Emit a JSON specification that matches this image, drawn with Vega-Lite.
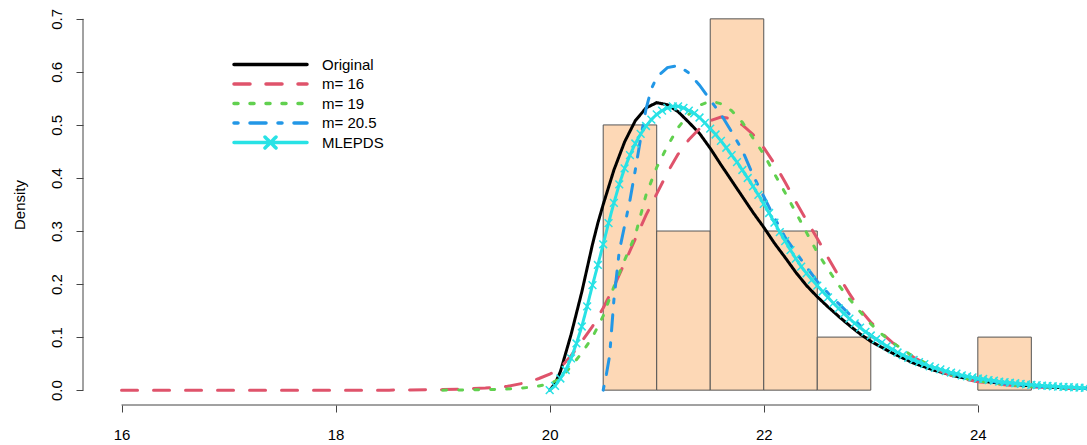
{
  "$schema": "https://vega.github.io/schema/vega-lite/v6.json",
  "width": 1004,
  "height": 401,
  "autosize": {"type": "none"},
  "padding": {"left": 83, "top": 4, "right": 0, "bottom": 40},
  "config": {
    "view": {"stroke": null},
    "font": "Liberation Sans",
    "axis": {"grid": false, "domain": false, "tickColor": "#444444", "tickSize": 7, "labelFontSize": 15, "labelColor": "#000000", "labelFont": "Liberation Sans", "titleFont": "Liberation Sans", "titleFontWeight": "normal", "titleFontSize": 15, "titleColor": "#000000"}
  },
  "datasets": {
    "hist": [
      {"start": 20.5, "end": 21.0, "density": 0.5},
      {"start": 21.0, "end": 21.5, "density": 0.3},
      {"start": 21.5, "end": 22.0, "density": 0.7},
      {"start": 22.0, "end": 22.5, "density": 0.3},
      {"start": 22.5, "end": 23.0, "density": 0.1},
      {"start": 24.0, "end": 24.5, "density": 0.1}
    ],
    "curves": [
      {"series": "Original", "x": 20.0, "y": 0},
      {"series": "Original", "x": 20.05, "y": 0.012},
      {"series": "Original", "x": 20.1, "y": 0.035},
      {"series": "Original", "x": 20.15, "y": 0.07},
      {"series": "Original", "x": 20.2, "y": 0.105},
      {"series": "Original", "x": 20.25, "y": 0.145},
      {"series": "Original", "x": 20.3, "y": 0.185},
      {"series": "Original", "x": 20.35, "y": 0.23},
      {"series": "Original", "x": 20.4, "y": 0.275},
      {"series": "Original", "x": 20.45, "y": 0.315},
      {"series": "Original", "x": 20.5, "y": 0.35},
      {"series": "Original", "x": 20.6, "y": 0.415},
      {"series": "Original", "x": 20.7, "y": 0.468},
      {"series": "Original", "x": 20.8, "y": 0.508},
      {"series": "Original", "x": 20.9, "y": 0.532},
      {"series": "Original", "x": 21.0, "y": 0.542},
      {"series": "Original", "x": 21.1, "y": 0.538},
      {"series": "Original", "x": 21.2, "y": 0.525},
      {"series": "Original", "x": 21.3, "y": 0.505},
      {"series": "Original", "x": 21.4, "y": 0.484},
      {"series": "Original", "x": 21.5, "y": 0.456},
      {"series": "Original", "x": 21.6, "y": 0.425},
      {"series": "Original", "x": 21.7, "y": 0.395},
      {"series": "Original", "x": 21.8, "y": 0.365},
      {"series": "Original", "x": 21.9, "y": 0.335},
      {"series": "Original", "x": 22.0, "y": 0.307},
      {"series": "Original", "x": 22.1, "y": 0.277},
      {"series": "Original", "x": 22.2, "y": 0.25},
      {"series": "Original", "x": 22.3, "y": 0.222},
      {"series": "Original", "x": 22.4, "y": 0.197},
      {"series": "Original", "x": 22.5, "y": 0.176},
      {"series": "Original", "x": 22.6, "y": 0.157},
      {"series": "Original", "x": 22.7, "y": 0.139},
      {"series": "Original", "x": 22.8, "y": 0.122},
      {"series": "Original", "x": 22.9, "y": 0.106},
      {"series": "Original", "x": 23.0, "y": 0.092},
      {"series": "Original", "x": 23.2, "y": 0.07},
      {"series": "Original", "x": 23.4, "y": 0.051},
      {"series": "Original", "x": 23.6, "y": 0.037},
      {"series": "Original", "x": 23.8, "y": 0.026},
      {"series": "Original", "x": 24.0, "y": 0.018},
      {"series": "Original", "x": 24.25, "y": 0.012},
      {"series": "Original", "x": 24.5, "y": 0.008},
      {"series": "Original", "x": 24.75, "y": 0.005},
      {"series": "Original", "x": 25.0, "y": 0.003},
      {"series": "Original", "x": 25.1, "y": 0.002},

      {"series": "m= 16", "x": 16.0, "y": 0},
      {"series": "m= 16", "x": 18.5, "y": 0},
      {"series": "m= 16", "x": 19.0, "y": 0.001},
      {"series": "m= 16", "x": 19.2, "y": 0.002},
      {"series": "m= 16", "x": 19.4, "y": 0.004},
      {"series": "m= 16", "x": 19.6, "y": 0.007},
      {"series": "m= 16", "x": 19.8, "y": 0.015},
      {"series": "m= 16", "x": 19.9, "y": 0.022},
      {"series": "m= 16", "x": 20.0, "y": 0.03},
      {"series": "m= 16", "x": 20.1, "y": 0.042},
      {"series": "m= 16", "x": 20.2, "y": 0.065},
      {"series": "m= 16", "x": 20.3, "y": 0.092},
      {"series": "m= 16", "x": 20.4, "y": 0.12},
      {"series": "m= 16", "x": 20.5, "y": 0.155},
      {"series": "m= 16", "x": 20.6, "y": 0.195},
      {"series": "m= 16", "x": 20.7, "y": 0.24},
      {"series": "m= 16", "x": 20.8, "y": 0.285},
      {"series": "m= 16", "x": 20.9, "y": 0.33},
      {"series": "m= 16", "x": 21.0, "y": 0.37},
      {"series": "m= 16", "x": 21.1, "y": 0.41},
      {"series": "m= 16", "x": 21.2, "y": 0.445},
      {"series": "m= 16", "x": 21.3, "y": 0.472},
      {"series": "m= 16", "x": 21.4, "y": 0.493},
      {"series": "m= 16", "x": 21.5, "y": 0.508},
      {"series": "m= 16", "x": 21.6, "y": 0.515},
      {"series": "m= 16", "x": 21.7, "y": 0.512},
      {"series": "m= 16", "x": 21.8, "y": 0.5},
      {"series": "m= 16", "x": 21.9, "y": 0.482},
      {"series": "m= 16", "x": 22.0, "y": 0.457},
      {"series": "m= 16", "x": 22.1, "y": 0.427},
      {"series": "m= 16", "x": 22.2, "y": 0.392},
      {"series": "m= 16", "x": 22.3, "y": 0.355},
      {"series": "m= 16", "x": 22.4, "y": 0.32},
      {"series": "m= 16", "x": 22.5, "y": 0.286},
      {"series": "m= 16", "x": 22.6, "y": 0.25},
      {"series": "m= 16", "x": 22.7, "y": 0.215},
      {"series": "m= 16", "x": 22.8, "y": 0.182},
      {"series": "m= 16", "x": 22.9, "y": 0.152},
      {"series": "m= 16", "x": 23.0, "y": 0.128},
      {"series": "m= 16", "x": 23.1, "y": 0.108},
      {"series": "m= 16", "x": 23.2, "y": 0.09},
      {"series": "m= 16", "x": 23.4, "y": 0.062},
      {"series": "m= 16", "x": 23.6, "y": 0.04},
      {"series": "m= 16", "x": 23.8, "y": 0.024},
      {"series": "m= 16", "x": 24.0, "y": 0.016},
      {"series": "m= 16", "x": 24.25, "y": 0.01},
      {"series": "m= 16", "x": 24.5, "y": 0.006},
      {"series": "m= 16", "x": 24.75, "y": 0.004},
      {"series": "m= 16", "x": 25.0, "y": 0.003},
      {"series": "m= 16", "x": 25.1, "y": 0.002},

      {"series": "m= 19", "x": 19.0, "y": 0},
      {"series": "m= 19", "x": 19.4, "y": 0.001},
      {"series": "m= 19", "x": 19.6, "y": 0.002},
      {"series": "m= 19", "x": 19.8, "y": 0.005},
      {"series": "m= 19", "x": 19.9, "y": 0.008},
      {"series": "m= 19", "x": 20.0, "y": 0.012},
      {"series": "m= 19", "x": 20.1, "y": 0.022},
      {"series": "m= 19", "x": 20.2, "y": 0.045},
      {"series": "m= 19", "x": 20.3, "y": 0.07},
      {"series": "m= 19", "x": 20.4, "y": 0.1},
      {"series": "m= 19", "x": 20.5, "y": 0.14},
      {"series": "m= 19", "x": 20.6, "y": 0.195},
      {"series": "m= 19", "x": 20.7, "y": 0.245},
      {"series": "m= 19", "x": 20.8, "y": 0.292},
      {"series": "m= 19", "x": 20.9, "y": 0.368},
      {"series": "m= 19", "x": 21.0, "y": 0.42},
      {"series": "m= 19", "x": 21.1, "y": 0.46},
      {"series": "m= 19", "x": 21.2, "y": 0.495},
      {"series": "m= 19", "x": 21.3, "y": 0.52},
      {"series": "m= 19", "x": 21.4, "y": 0.537},
      {"series": "m= 19", "x": 21.5, "y": 0.545},
      {"series": "m= 19", "x": 21.6, "y": 0.54},
      {"series": "m= 19", "x": 21.7, "y": 0.527},
      {"series": "m= 19", "x": 21.8, "y": 0.505},
      {"series": "m= 19", "x": 21.9, "y": 0.475},
      {"series": "m= 19", "x": 22.0, "y": 0.445},
      {"series": "m= 19", "x": 22.1, "y": 0.408},
      {"series": "m= 19", "x": 22.2, "y": 0.372},
      {"series": "m= 19", "x": 22.3, "y": 0.335},
      {"series": "m= 19", "x": 22.4, "y": 0.297},
      {"series": "m= 19", "x": 22.5, "y": 0.26},
      {"series": "m= 19", "x": 22.6, "y": 0.228},
      {"series": "m= 19", "x": 22.7, "y": 0.198},
      {"series": "m= 19", "x": 22.8, "y": 0.172},
      {"series": "m= 19", "x": 22.9, "y": 0.148},
      {"series": "m= 19", "x": 23.0, "y": 0.125},
      {"series": "m= 19", "x": 23.1, "y": 0.106},
      {"series": "m= 19", "x": 23.2, "y": 0.09},
      {"series": "m= 19", "x": 23.4, "y": 0.063},
      {"series": "m= 19", "x": 23.6, "y": 0.042},
      {"series": "m= 19", "x": 23.8, "y": 0.026},
      {"series": "m= 19", "x": 24.0, "y": 0.017},
      {"series": "m= 19", "x": 24.25, "y": 0.011},
      {"series": "m= 19", "x": 24.5, "y": 0.007},
      {"series": "m= 19", "x": 24.75, "y": 0.004},
      {"series": "m= 19", "x": 25.0, "y": 0.003},
      {"series": "m= 19", "x": 25.1, "y": 0.002},

      {"series": "m= 20.5", "x": 20.5, "y": 0},
      {"series": "m= 20.5", "x": 20.53, "y": 0.03},
      {"series": "m= 20.5", "x": 20.56, "y": 0.065},
      {"series": "m= 20.5", "x": 20.6, "y": 0.17},
      {"series": "m= 20.5", "x": 20.65, "y": 0.262},
      {"series": "m= 20.5", "x": 20.7, "y": 0.31},
      {"series": "m= 20.5", "x": 20.75, "y": 0.358},
      {"series": "m= 20.5", "x": 20.8, "y": 0.415},
      {"series": "m= 20.5", "x": 20.85, "y": 0.475},
      {"series": "m= 20.5", "x": 20.9, "y": 0.53},
      {"series": "m= 20.5", "x": 20.95, "y": 0.568},
      {"series": "m= 20.5", "x": 21.0, "y": 0.59},
      {"series": "m= 20.5", "x": 21.1, "y": 0.608},
      {"series": "m= 20.5", "x": 21.2, "y": 0.612},
      {"series": "m= 20.5", "x": 21.3, "y": 0.598},
      {"series": "m= 20.5", "x": 21.4, "y": 0.575},
      {"series": "m= 20.5", "x": 21.5, "y": 0.547},
      {"series": "m= 20.5", "x": 21.6, "y": 0.52},
      {"series": "m= 20.5", "x": 21.7, "y": 0.487},
      {"series": "m= 20.5", "x": 21.8, "y": 0.452},
      {"series": "m= 20.5", "x": 21.9, "y": 0.405},
      {"series": "m= 20.5", "x": 22.0, "y": 0.365},
      {"series": "m= 20.5", "x": 22.1, "y": 0.325},
      {"series": "m= 20.5", "x": 22.2, "y": 0.288},
      {"series": "m= 20.5", "x": 22.3, "y": 0.26},
      {"series": "m= 20.5", "x": 22.4, "y": 0.232},
      {"series": "m= 20.5", "x": 22.5, "y": 0.205},
      {"series": "m= 20.5", "x": 22.6, "y": 0.183},
      {"series": "m= 20.5", "x": 22.7, "y": 0.163},
      {"series": "m= 20.5", "x": 22.8, "y": 0.143},
      {"series": "m= 20.5", "x": 22.9, "y": 0.122},
      {"series": "m= 20.5", "x": 23.0, "y": 0.103},
      {"series": "m= 20.5", "x": 23.2, "y": 0.077},
      {"series": "m= 20.5", "x": 23.4, "y": 0.056},
      {"series": "m= 20.5", "x": 23.6, "y": 0.041},
      {"series": "m= 20.5", "x": 23.8, "y": 0.029},
      {"series": "m= 20.5", "x": 24.0, "y": 0.02},
      {"series": "m= 20.5", "x": 24.25, "y": 0.013},
      {"series": "m= 20.5", "x": 24.5, "y": 0.008},
      {"series": "m= 20.5", "x": 24.75, "y": 0.005},
      {"series": "m= 20.5", "x": 25.0, "y": 0.003},
      {"series": "m= 20.5", "x": 25.1, "y": 0.002},

      {"series": "MLEPDS", "x": 20.0, "y": 0},
      {"series": "MLEPDS", "x": 20.05, "y": 0.008},
      {"series": "MLEPDS", "x": 20.1, "y": 0.022},
      {"series": "MLEPDS", "x": 20.15, "y": 0.038},
      {"series": "MLEPDS", "x": 20.2, "y": 0.06},
      {"series": "MLEPDS", "x": 20.25, "y": 0.088},
      {"series": "MLEPDS", "x": 20.3, "y": 0.12},
      {"series": "MLEPDS", "x": 20.35, "y": 0.158},
      {"series": "MLEPDS", "x": 20.4, "y": 0.198},
      {"series": "MLEPDS", "x": 20.45, "y": 0.236},
      {"series": "MLEPDS", "x": 20.5, "y": 0.275},
      {"series": "MLEPDS", "x": 20.55, "y": 0.315},
      {"series": "MLEPDS", "x": 20.6, "y": 0.353},
      {"series": "MLEPDS", "x": 20.65, "y": 0.388},
      {"series": "MLEPDS", "x": 20.7, "y": 0.418},
      {"series": "MLEPDS", "x": 20.75, "y": 0.443},
      {"series": "MLEPDS", "x": 20.8, "y": 0.465},
      {"series": "MLEPDS", "x": 20.85, "y": 0.483},
      {"series": "MLEPDS", "x": 20.9, "y": 0.498},
      {"series": "MLEPDS", "x": 20.95, "y": 0.51},
      {"series": "MLEPDS", "x": 21.0, "y": 0.52},
      {"series": "MLEPDS", "x": 21.05, "y": 0.527},
      {"series": "MLEPDS", "x": 21.1, "y": 0.532},
      {"series": "MLEPDS", "x": 21.15, "y": 0.535},
      {"series": "MLEPDS", "x": 21.2, "y": 0.535},
      {"series": "MLEPDS", "x": 21.25, "y": 0.532},
      {"series": "MLEPDS", "x": 21.3, "y": 0.527},
      {"series": "MLEPDS", "x": 21.35, "y": 0.522},
      {"series": "MLEPDS", "x": 21.4, "y": 0.514},
      {"series": "MLEPDS", "x": 21.45, "y": 0.504},
      {"series": "MLEPDS", "x": 21.5, "y": 0.493},
      {"series": "MLEPDS", "x": 21.55, "y": 0.482},
      {"series": "MLEPDS", "x": 21.6, "y": 0.47},
      {"series": "MLEPDS", "x": 21.65, "y": 0.457},
      {"series": "MLEPDS", "x": 21.7, "y": 0.443},
      {"series": "MLEPDS", "x": 21.75, "y": 0.43},
      {"series": "MLEPDS", "x": 21.8, "y": 0.415},
      {"series": "MLEPDS", "x": 21.85, "y": 0.4},
      {"series": "MLEPDS", "x": 21.9, "y": 0.384},
      {"series": "MLEPDS", "x": 21.95, "y": 0.368},
      {"series": "MLEPDS", "x": 22.0, "y": 0.351},
      {"series": "MLEPDS", "x": 22.05, "y": 0.334},
      {"series": "MLEPDS", "x": 22.1, "y": 0.316},
      {"series": "MLEPDS", "x": 22.15, "y": 0.298},
      {"series": "MLEPDS", "x": 22.2, "y": 0.281},
      {"series": "MLEPDS", "x": 22.25, "y": 0.264},
      {"series": "MLEPDS", "x": 22.3, "y": 0.248},
      {"series": "MLEPDS", "x": 22.35, "y": 0.233},
      {"series": "MLEPDS", "x": 22.4, "y": 0.22},
      {"series": "MLEPDS", "x": 22.45, "y": 0.208},
      {"series": "MLEPDS", "x": 22.5, "y": 0.197},
      {"series": "MLEPDS", "x": 22.55, "y": 0.186},
      {"series": "MLEPDS", "x": 22.6, "y": 0.175},
      {"series": "MLEPDS", "x": 22.65, "y": 0.164},
      {"series": "MLEPDS", "x": 22.7, "y": 0.154},
      {"series": "MLEPDS", "x": 22.75, "y": 0.144},
      {"series": "MLEPDS", "x": 22.8, "y": 0.135},
      {"series": "MLEPDS", "x": 22.85, "y": 0.126},
      {"series": "MLEPDS", "x": 22.9, "y": 0.118},
      {"series": "MLEPDS", "x": 22.95, "y": 0.11},
      {"series": "MLEPDS", "x": 23.0, "y": 0.103},
      {"series": "MLEPDS", "x": 23.05, "y": 0.096},
      {"series": "MLEPDS", "x": 23.1, "y": 0.089},
      {"series": "MLEPDS", "x": 23.15, "y": 0.083},
      {"series": "MLEPDS", "x": 23.2, "y": 0.077},
      {"series": "MLEPDS", "x": 23.25, "y": 0.071},
      {"series": "MLEPDS", "x": 23.3, "y": 0.066},
      {"series": "MLEPDS", "x": 23.35, "y": 0.061},
      {"series": "MLEPDS", "x": 23.4, "y": 0.057},
      {"series": "MLEPDS", "x": 23.45, "y": 0.053},
      {"series": "MLEPDS", "x": 23.5, "y": 0.049},
      {"series": "MLEPDS", "x": 23.55, "y": 0.045},
      {"series": "MLEPDS", "x": 23.6, "y": 0.042},
      {"series": "MLEPDS", "x": 23.65, "y": 0.039},
      {"series": "MLEPDS", "x": 23.7, "y": 0.036},
      {"series": "MLEPDS", "x": 23.75, "y": 0.033},
      {"series": "MLEPDS", "x": 23.8, "y": 0.031},
      {"series": "MLEPDS", "x": 23.85, "y": 0.028},
      {"series": "MLEPDS", "x": 23.9, "y": 0.026},
      {"series": "MLEPDS", "x": 23.95, "y": 0.024},
      {"series": "MLEPDS", "x": 24.0, "y": 0.022},
      {"series": "MLEPDS", "x": 24.05, "y": 0.021},
      {"series": "MLEPDS", "x": 24.1, "y": 0.019},
      {"series": "MLEPDS", "x": 24.15, "y": 0.018},
      {"series": "MLEPDS", "x": 24.2, "y": 0.016},
      {"series": "MLEPDS", "x": 24.25, "y": 0.015},
      {"series": "MLEPDS", "x": 24.3, "y": 0.014},
      {"series": "MLEPDS", "x": 24.35, "y": 0.013},
      {"series": "MLEPDS", "x": 24.4, "y": 0.012},
      {"series": "MLEPDS", "x": 24.45, "y": 0.011},
      {"series": "MLEPDS", "x": 24.5, "y": 0.01},
      {"series": "MLEPDS", "x": 24.55, "y": 0.0093},
      {"series": "MLEPDS", "x": 24.6, "y": 0.0086},
      {"series": "MLEPDS", "x": 24.65, "y": 0.008},
      {"series": "MLEPDS", "x": 24.7, "y": 0.0074},
      {"series": "MLEPDS", "x": 24.75, "y": 0.0068},
      {"series": "MLEPDS", "x": 24.8, "y": 0.0062},
      {"series": "MLEPDS", "x": 24.85, "y": 0.0057},
      {"series": "MLEPDS", "x": 24.9, "y": 0.0052},
      {"series": "MLEPDS", "x": 24.95, "y": 0.0048},
      {"series": "MLEPDS", "x": 25.0, "y": 0.0044}
    ]
  },
  "layer": [
    {
      "data": {"name": "hist"},
      "mark": {"type": "rect", "fill": "#FDD8B6", "stroke": "#555555", "strokeWidth": 1},
      "encoding": {
        "x": {"field": "start", "type": "quantitative", "scale": {"domain": [15.64, 25.02], "nice": false, "zero": false},
          "axis": {"values": [16, 18, 20, 22, 24], "format": "d", "title": null, "labelPadding": 15, "labelFlush": false, "labelOverlap": false}},
        "x2": {"field": "end"},
        "y": {"field": "density", "type": "quantitative", "scale": {"domain": [-0.028, 0.728], "nice": false, "zero": false},
          "axis": {"values": [0, 0.1, 0.2, 0.3, 0.4, 0.5, 0.6, 0.7], "format": ".1f", "title": "Density", "labelAngle": -90, "labelAlign": "center", "labelBaseline": "alphabetic", "labelPadding": 15, "titlePadding": 22, "labelFlush": false, "labelOverlap": false}},
        "y2": {"datum": 0}
      }
    },
    {
      "data": {"values": [{}]},
      "mark": {"type": "rule", "color": "#444444", "strokeWidth": 1},
      "encoding": {"x": {"datum": 16}, "x2": {"datum": 24}, "y": {"datum": -0.028}}
    },
    {
      "data": {"values": [{}]},
      "mark": {"type": "rule", "color": "#444444", "strokeWidth": 1},
      "encoding": {"x": {"datum": 15.64}, "y": {"datum": 0}, "y2": {"datum": 0.7}}
    },
    {
      "data": {"name": "curves"},
      "mark": {"type": "line", "strokeWidth": 3, "strokeCap": "round", "clip": true},
      "encoding": {
        "x": {"field": "x", "type": "quantitative"},
        "y": {"field": "y", "type": "quantitative"},
        "color": {"field": "series", "type": "nominal",
          "scale": {"domain": ["Original", "m= 16", "m= 19", "m= 20.5", "MLEPDS"], "range": ["#000000", "#DF536B", "#61D04F", "#2297E6", "#28E2E5"]},
          "legend": {"title": null, "orient": "none", "legendX": 180, "legendY": 53, "labelFontSize": 15, "labelFont": "Liberation Sans", "labelColor": "#000000", "labelOffset": 44, "symbolSize": 100, "symbolStrokeWidth": 3.5, "rowPadding": 3.5,
            "encode": {"symbols": {"update": {"shape": {"signal": "datum.value === 'MLEPDS' ? 'M-7.3,0L7.3,0M-1.1,-1.1L1.1,1.1M-1.1,1.1L1.1,-1.1' : 'M-7.3,0L7.3,0'"}, "size": {"value": 100}, "strokeCap": {"value": "round"}, "strokeJoin": {"value": "round"}}}}}},
        "strokeDash": {"field": "series", "type": "nominal",
          "scale": {"domain": ["Original", "m= 16", "m= 19", "m= 20.5", "MLEPDS"], "range": [[1, 0], [16, 16], [4, 12], [4, 12, 16, 12], [1, 0]]}}
      }
    },
    {
      "data": {"name": "curves"},
      "transform": [{"filter": "datum.series === 'MLEPDS'"}],
      "mark": {"type": "point", "shape": "M-1,-1L1,1M-1,1L1,-1", "size": 60, "filled": false, "stroke": "#28E2E5", "strokeWidth": 1.5, "opacity": 1, "clip": true},
      "encoding": {
        "x": {"field": "x", "type": "quantitative"},
        "y": {"field": "y", "type": "quantitative"}
      }
    }
  ]
}
